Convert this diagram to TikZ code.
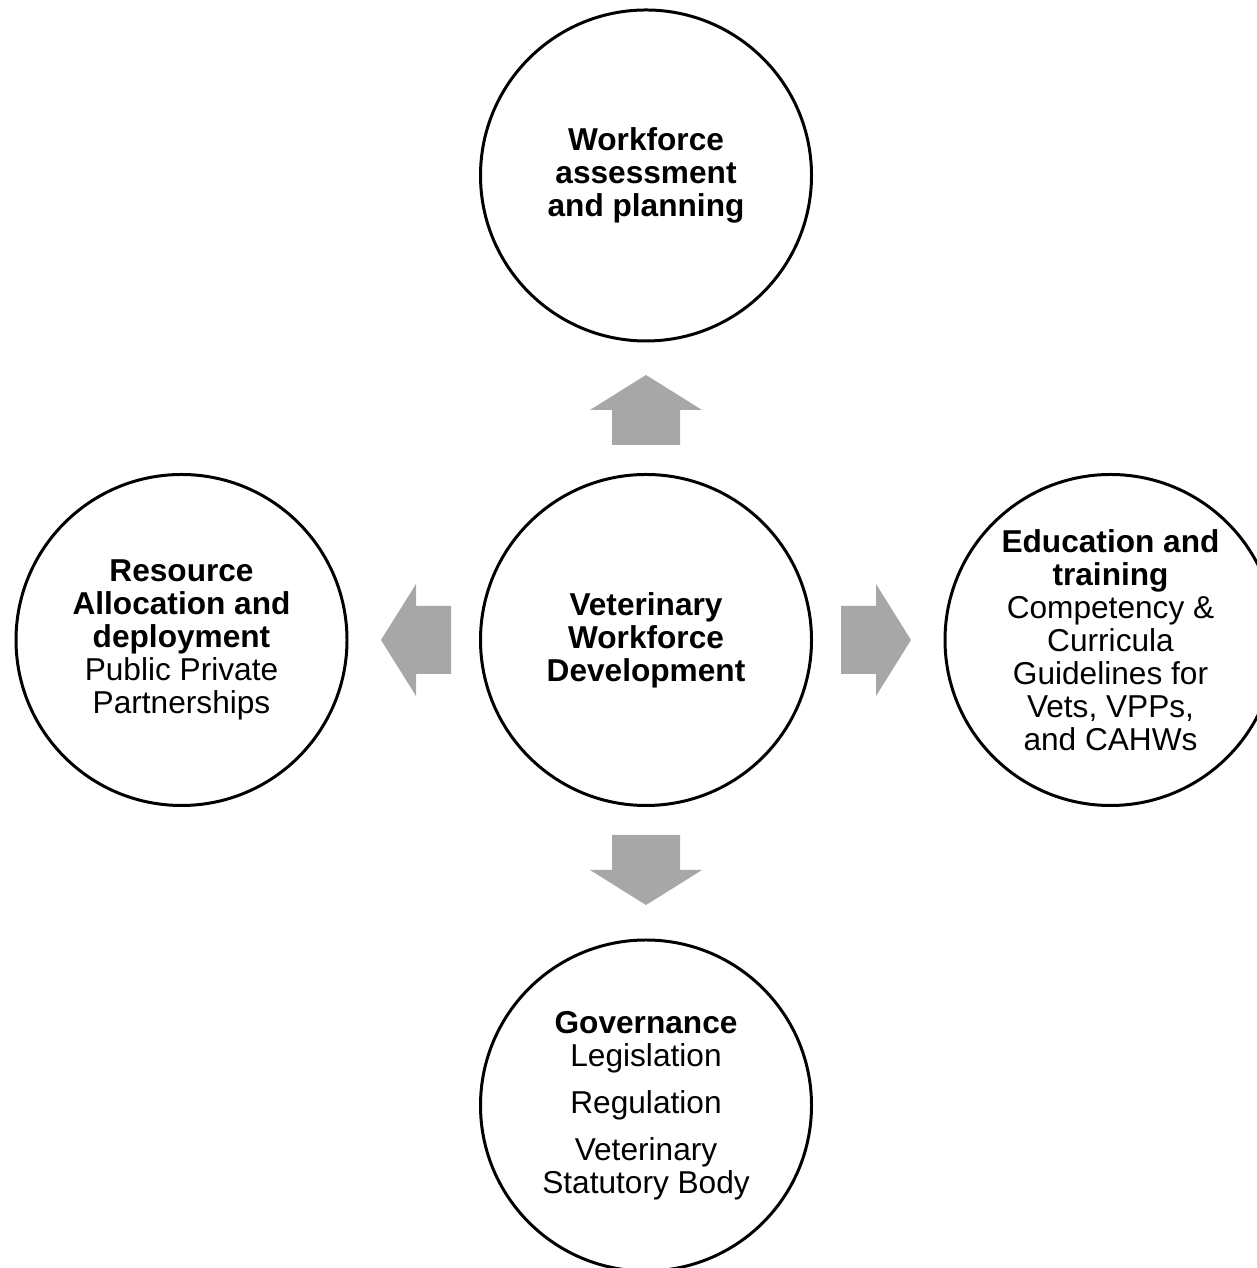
\documentclass[tikz,border=0pt]{standalone}
\usepackage{fontspec}
\setmainfont{Liberation Sans}
\usepackage{tikz}

\definecolor{arrowgray}{RGB}{167,167,167}

\begin{document}
\begin{tikzpicture}[
  topic/.style={circle,draw,line width=0.85pt,minimum size=3.31cm,inner sep=0pt,
    align=center,font=\fontsize{9}{9.4}\selectfont},
  blockarrow/.style={fill=arrowgray}
]

\useasboundingbox (0,0) rectangle (12.57,12.68);
\clip (0,0) rectangle (12.57,12.68);

\node[topic] (vwd) at (6.46,6.28) {\textbf{Veterinary}\\\textbf{Workforce}\\\textbf{Development}};

\node[topic] (wap) at (6.46,10.925) {\textbf{Workforce}\\\textbf{assessment}\\\textbf{and planning}};
\node[topic] (et) at (11.105,6.28) {\textbf{Education and}\\\textbf{training}\\Competency \&\\Curricula\\Guidelines for\\Vets, VPPs,\\and CAHWs};
\node[topic] (gov) at (6.46,1.625) {\textbf{Governance}\\Legislation\\[4pt]Regulation\\[4pt]Veterinary\\Statutory Body};
\node[topic] (rad) at (1.815,6.28) {\textbf{Resource}\\\textbf{Allocation and}\\\textbf{deployment}\\Public Private\\Partnerships};

% up
\fill[blockarrow] (6.12,8.23) -- (6.80,8.23) -- (6.80,8.58) -- (7.02,8.58) -- (6.46,8.93)
  -- (5.90,8.58) -- (6.12,8.58) -- cycle;
% right
\fill[blockarrow] (8.41,5.94) -- (8.41,6.62) -- (8.76,6.62) -- (8.76,6.84) -- (9.11,6.28)
  -- (8.76,5.72) -- (8.76,5.94) -- cycle;
% down
\fill[blockarrow] (6.12,4.33) -- (6.80,4.33) -- (6.80,3.98) -- (7.02,3.98) -- (6.46,3.63)
  -- (5.90,3.98) -- (6.12,3.98) -- cycle;
% left
\fill[blockarrow] (4.51,5.94) -- (4.51,6.62) -- (4.16,6.62) -- (4.16,6.84) -- (3.81,6.28)
  -- (4.16,5.72) -- (4.16,5.94) -- cycle;

\end{tikzpicture}
\end{document}
